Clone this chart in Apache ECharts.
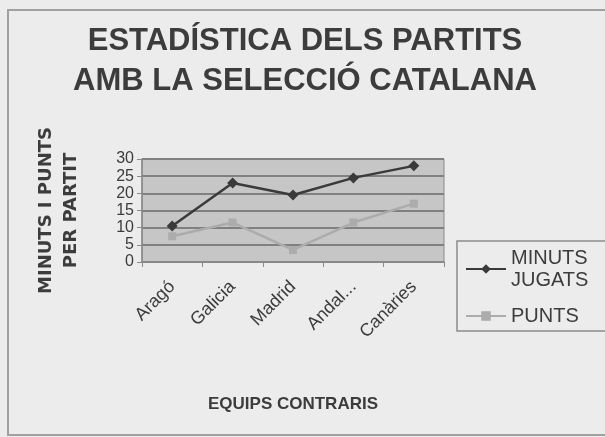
<!DOCTYPE html>
<html>
<head>
  <meta charset="UTF-8">
  <title>Estadística dels partits</title>
  <script src="https://cdn.jsdelivr.net/npm/echarts@6/dist/echarts.min.js"></script>
  <style>
    html, body { margin: 0; padding: 0; background: #ececec; }
  </style>
</head>
<body>
<div id="main" style="width: 605px; height: 437px;"></div>

<script type="text/javascript">
  // dades llegides del gràfic
  var equips = ['Aragó', 'Galicia', 'Madrid', 'Andal...', 'Canàries'];
  var minutsJugats = [10.5, 23, 19.5, 24.5, 28];
  var punts = [7.5, 11.5, 3.5, 11.5, 17];
  var yTicks = [0, 5, 10, 15, 20, 25, 30];

  var myChart = echarts.init(document.getElementById('main'));
  var font = '"Liberation Sans", Arial, sans-serif';

  var option = {
    backgroundColor: '#ececec',
    textStyle: { fontFamily: font },
    title: {
      text: 'ESTADÍSTICA DELS PARTITS\nAMB LA SELECCIÓ CATALANA',
      left: 300,
      textAlign: 'center',
      top: 16,
      textStyle: {
        fontFamily: font,
        fontSize: 31,
        fontWeight: 'bold',
        color: '#3c3c3c',
        lineHeight: 40
      }
    },
    graphic: [{
      type: 'rect',
      shape: { x: 8, y: 10, width: 600, height: 425 },
      style: { fill: 'none', stroke: '#a0a0a0', lineWidth: 2 },
      silent: true
    }],
    legend: {
      orient: 'vertical',
      left: 457,
      top: 241,
      width: 160,
      padding: [6, 40, 4, 8],
      itemGap: 14,
      itemWidth: 40,
      itemHeight: 12,
      borderColor: '#8a8a8a',
      borderWidth: 1.5,
      backgroundColor: '#ececec',
      data: ['MINUTS JUGATS', 'PUNTS'],
      formatter: function (name) {
        return name.replace(' ', '\n');
      },
      textStyle: {
        fontFamily: font,
        fontSize: 20,
        color: '#3c3c3c',
        lineHeight: 22
      }
    },
    grid: {
      left: 142,
      right: 161,
      top: 159,
      bottom: 175,
      show: true,
      backgroundColor: '#c6c6c6',
      borderColor: '#8a8a8a',
      borderWidth: 1
    },
    xAxis: {
      type: 'category',
      data: equips,
      boundaryGap: true,
      name: 'EQUIPS CONTRARIS',
      nameLocation: 'middle',
      nameGap: 134,
      nameTextStyle: {
        fontFamily: font,
        fontSize: 17,
        fontWeight: 'bold',
        color: '#3c3c3c'
      },
      axisLine: { lineStyle: { color: '#8a8a8a', width: 1.5 } },
      axisTick: { show: true, alignWithLabel: false, length: 5, lineStyle: { color: '#8a8a8a' } },
      axisLabel: {
        rotate: 45,
        margin: 22,
        fontSize: 18,
        color: '#3c3c3c'
      }
    },
    yAxis: {
      type: 'value',
      min: yTicks[0],
      max: yTicks[yTicks.length - 1],
      interval: 5,
      name: 'MINUTS I PUNTS\nPER PARTIT',
      nameLocation: 'middle',
      nameGap: 58,
      nameTextStyle: {
        fontFamily: '"DejaVu Sans", sans-serif',
        fontSize: 18,
        fontWeight: 'bold',
        color: '#3c3c3c',
        lineHeight: 25
      },
      axisLine: { show: true, lineStyle: { color: '#8a8a8a', width: 1.5 } },
      axisTick: { show: true, length: 5, lineStyle: { color: '#8a8a8a' } },
      axisLabel: {
        fontSize: 16,
        margin: 8,
        color: '#3c3c3c'
      },
      splitLine: { lineStyle: { color: '#808080', width: 2 } }
    },
    series: [
      {
        name: 'MINUTS JUGATS',
        type: 'line',
        data: minutsJugats,
        symbol: 'diamond',
        symbolSize: 11,
        itemStyle: { color: '#3a3a3a' },
        lineStyle: { color: '#3a3a3a', width: 2.5 }
      },
      {
        name: 'PUNTS',
        type: 'line',
        data: punts,
        symbol: 'rect',
        symbolSize: 8,
        itemStyle: { color: '#acacac' },
        lineStyle: { color: '#acacac', width: 2.5 }
      }
    ]
  };

  myChart.setOption(option);
</script>
</body>
</html>
